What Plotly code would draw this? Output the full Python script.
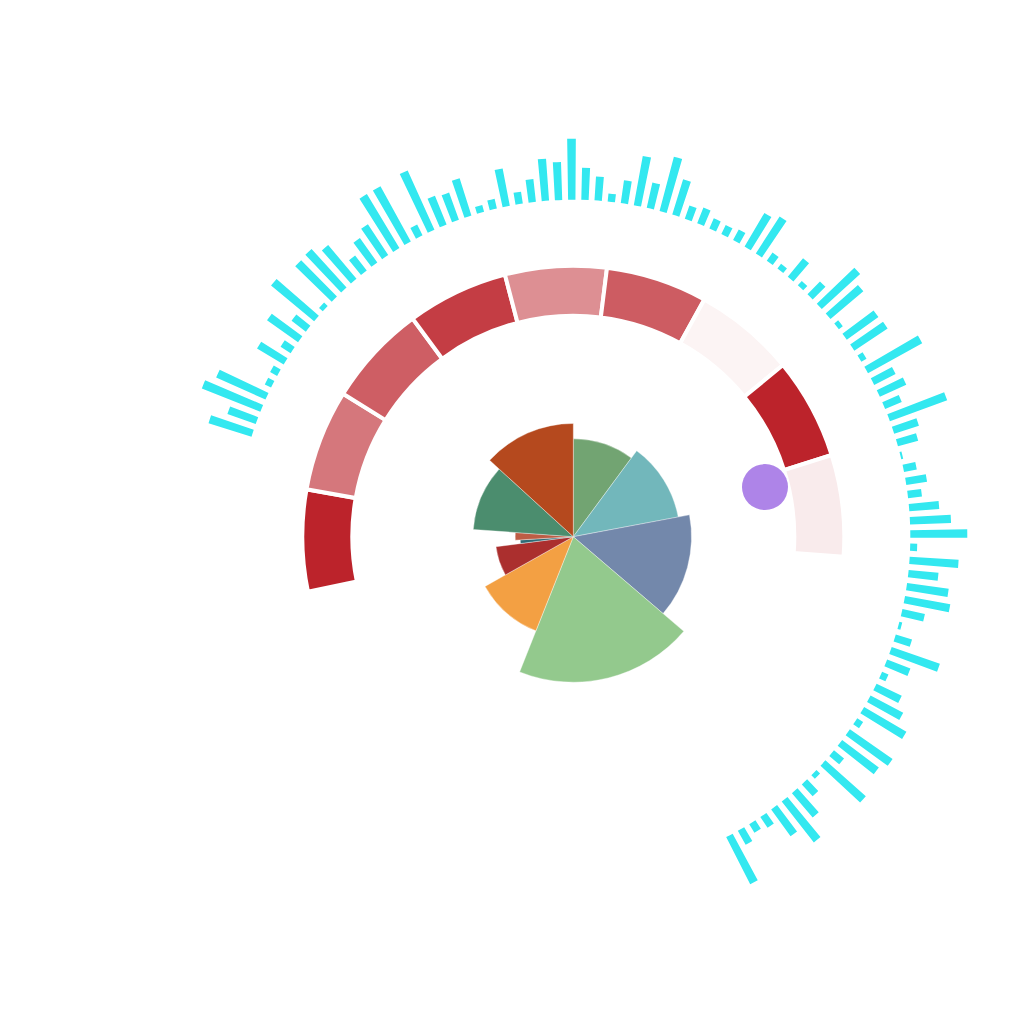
import plotly.graph_objects as go
import numpy as np

# ---------------- data ----------------
# inner rose (share of total, clockwise from top)
rose_labels = ["A", "B", "C", "D", "E", "F", "G", "H", "I", "J"]
rose_values = [10.1, 11.9, 14.2, 19.7, 10.8, 6.1, 1.1, 2.1, 10.6, 13.2]
rose_colors = ["#72a472", "#72b7bb", "#7388ab", "#93c98d", "#f3a043",
               "#ab2f2e", "#2e6b76", "#bd5d45", "#4b8d6e", "#b5491e"]

# middle ring (intensity per segment)
ring_labels = ["S1", "S2", "S3", "S4", "S5", "S6", "S7", "S8", "S9"]
ring_values = [1.00, 0.62, 0.73, 0.88, 0.51, 0.74, 0.05, 1.00, 0.09]

# outer cyan bars
cyan_values = [45, 30, 63, 54, 7, 8, 31, 12, 38, 18,
               56, 5, 51, 52, 44, 19, 30, 37, 63, 63,
               12, 65, 31, 29, 39, 7, 10, 38, 12, 23,
               42, 38, 61, 32, 24, 8, 23, 50, 26, 56,
               37, 14, 17, 11, 10, 12, 39, 44, 10, 6,
               24, 6, 18, 52, 43, 5, 39, 40, 6, 62,
               24, 29, 18, 61, 26, 21, 2, 13, 21, 14,
               30, 41, 57, 7, 49, 30, 42, 46, 23, 3,
               17, 51, 25, 7, 28, 37, 49, 7, 52, 46,
               13, 54, 5, 16, 32, 52, 33, 13, 10, 16, 53]

# marker point
dot_value = [198]
dot_angle = [75.5]

# ---------------- scales ----------------
R_MAX = 440.0
# rose: angle proportional to value, radius linear in value
rose_v = np.array(rose_values, dtype=float)
rose_span = rose_v / rose_v.sum() * 360.0
rose_theta = np.cumsum(rose_span) - rose_span / 2
rose_r0, rose_r1 = 47.7, 145.5
rose_r = rose_r0 + (rose_r1 - rose_r0) * rose_v / rose_v.max()

# ring: 9 equal sectors
ring_start, ring_step = -101.7, 21.77
ring_theta = ring_start + (np.arange(len(ring_values)) + 0.5) * ring_step
ring_in, ring_out = 221.0, 271.0

# cyan: fixed base radius, one slot per bar
cyan_start, cyan_step = -72.1, 2.245
cyan_theta = cyan_start + np.arange(len(cyan_values)) * cyan_step
cyan_base = 337.0

fig = go.Figure()

fig.add_trace(go.Barpolar(
    r=rose_r, theta=rose_theta, width=rose_span, base=0,
    marker=dict(color=rose_colors, line=dict(color="rgba(255,255,255,0.6)", width=0.6)),
    text=rose_labels, hoverinfo="text", showlegend=False))

fig.add_trace(go.Barpolar(
    r=[ring_out - ring_in] * len(ring_values), theta=ring_theta,
    width=[ring_step] * len(ring_values), base=ring_in,
    marker=dict(color=ring_values, colorscale=[[0, "#ffffff"], [1, "#bc232b"]],
                cmin=0, cmax=1, line=dict(color="#ffffff", width=4)),
    text=ring_labels, hoverinfo="text", showlegend=False))

fig.add_trace(go.Barpolar(
    r=cyan_values, theta=cyan_theta, width=[1.25] * len(cyan_values), base=cyan_base,
    marker=dict(color="#33e8f0", line=dict(width=0)),
    showlegend=False))

fig.add_trace(go.Scatterpolar(
    r=dot_value, theta=dot_angle, mode="markers",
    marker=dict(size=46, color="#ae84e8", line=dict(width=0)),
    showlegend=False))

cx, cy = 573.3, 536.7
W = H = 1024
fig.update_layout(
    width=W, height=H, margin=dict(l=0, r=0, t=0, b=0),
    paper_bgcolor="white", plot_bgcolor="white",
    polar=dict(
        domain=dict(x=[(cx - R_MAX) / W, (cx + R_MAX) / W],
                    y=[1 - (cy + R_MAX) / H, 1 - (cy - R_MAX) / H]),
        bgcolor="white",
        barmode="overlay",
        radialaxis=dict(range=[0, R_MAX], visible=False, showgrid=False,
                        showticklabels=False, showline=False, ticks=""),
        angularaxis=dict(rotation=90, direction="clockwise", visible=False,
                         showgrid=False, showticklabels=False, showline=False, ticks=""),
    ),
)

fig.write_html("out.html")
